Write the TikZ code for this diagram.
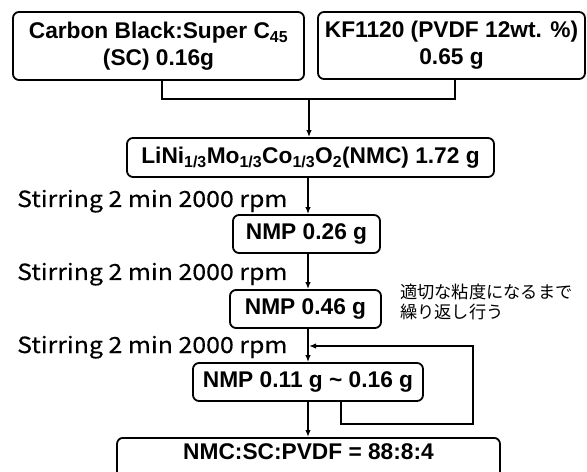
\documentclass[tikz,border=0pt]{standalone}
\usepackage{fontspec}
\setmainfont{Liberation Sans}
\newfontfamily\jpfont{Noto Sans CJK JP}
\newfontfamily\stirfont[FakeStretch=1.12,FakeBold=0.4]{Noto Sans CJK JP}
\usetikzlibrary{arrows.meta,calc}
\begin{document}
\begin{tikzpicture}[x=1bp,y=-1bp,
  box/.style={draw, line width=1.8bp, rounded corners=6bp, inner sep=0pt, align=center,
    font=\fontsize{22.8}{27}\selectfont\bfseries},
  conn/.style={line width=1.5bp},
  arr/.style={conn, -{Latex[length=7bp,width=5.5bp]}},
  stir/.style={anchor=base west, inner sep=0pt, font=\stirfont\fontsize{22.3}{26}\selectfont},
  note/.style={anchor=base west, inner sep=0pt, align=left, font=\jpfont\fontsize{17.3}{20}\selectfont}
]
\useasboundingbox (0,0) rectangle (587,472);
\clip (0,0) rectangle (587,472);
\fill[white] (0,0) rectangle (587,472);

\node[box, minimum width=291bp, minimum height=68bp] (cb) at (158.5,46) {Carbon Black:Super C\textsubscript{45}\\(SC) 0.16g};
\node[box, minimum width=267bp, minimum height=67bp] (kf) at (451.5,45.5) {KF1120 (PVDF 12wt. \%)\\0.65 g};
\node[box, minimum width=367bp, minimum height=39bp] (nmc) at (310.5,157.5) {LiNi\textsubscript{1/3}Mo\textsubscript{1/3}Co\textsubscript{1/3}O\textsubscript{2}(NMC) 1.72 g};
\node[box, minimum width=147bp, minimum height=38bp] (n1) at (306.5,234) {NMP 0.26 g};
\node[box, minimum width=151bp, minimum height=38bp] (n2) at (305.5,309) {NMP 0.46 g};
\node[box, minimum width=230bp, minimum height=38bp] (n3) at (308,382) {NMP 0.11 g \textasciitilde{} 0.16 g};
\node[box, anchor=north, minimum width=383bp, text height=22bp, text depth=40bp] (fin) at (308.5,437) {NMC:SC:PVDF = 88:8:4};

\node[stir] (s1) at (17,207) {Stirring 2 min 2000 rpm};
\node[stir] (s2) at (17,280) {Stirring 2 min 2000 rpm};
\node[stir] (s3) at (17,353) {Stirring 2 min 2000 rpm};
\node[note] (jp) at (400,318) {適切な粘度になるまで\\繰り返し行う};

\coordinate (cbx) at (162,0);
\coordinate (kfx) at (455,0);
\coordinate (merge) at (309,99);
\coordinate (mx) at (308,0);
\coordinate (fbx) at (341,0);
\coordinate (fbc) at (473,424);
\coordinate (fbin) at (309,346);

\draw[conn] (cb.south -| cbx) |- (merge) -| (kf.south -| kfx);
\draw[arr] (merge) -- (nmc.north -| merge);
\draw[arr] (nmc.south -| mx) -- (n1.north -| mx);
\draw[arr] (n1.south -| mx) -- (n2.north -| mx);
\draw[arr] (n2.south -| mx) -- (n3.north -| mx);
\draw[arr] (n3.south -| mx) -- (fin.north -| mx);
\draw[arr] (n3.south -| fbx) |- (fbc) |- (fbin);
\end{tikzpicture}
\end{document}
